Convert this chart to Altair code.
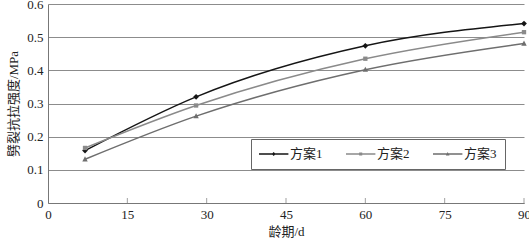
import altair as alt
import pandas as pd

ages = [7, 28, 60, 90]
series_names = ["方案1", "方案2", "方案3"]
plan1 = [0.158, 0.320, 0.474, 0.541]
plan2 = [0.166, 0.294, 0.435, 0.515]
plan3 = [0.132, 0.262, 0.402, 0.481]
x_ticks = [0, 15, 30, 45, 60, 75, 90]
y_ticks = [0, 0.1, 0.2, 0.3, 0.4, 0.5, 0.6]
colors = ["#151515", "#8a8a8a", "#6e6e6e"]
marker_paths = [
    "M0,-0.16L0.16,0L0,0.16L-0.16,0Z",
    "M-0.12,-0.12L0.12,-0.12L0.12,0.12L-0.12,0.12Z",
    "M0,-0.16L0.15,0.12L-0.15,0.12Z",
]
STUB = "M-1,-0.1L3.2,-0.1L3.2,0.1L-1,0.1Z"
legend_paths = [
    STUB + "M1.1,-0.28L1.38,0L1.1,0.28L0.82,0Z",
    STUB + "M0.88,-0.22L1.32,-0.22L1.32,0.22L0.88,0.22Z",
    STUB + "M1.1,-0.3L1.36,0.2L0.84,0.2Z",
]

rows = []
for name, vals in zip(series_names, [plan1, plan2, plan3]):
    for a, v in zip(ages, vals):
        rows.append({"series": name, "age": a, "value": v})
df = pd.DataFrame(rows)
tick_df = pd.DataFrame({"t": x_ticks[1:]})

FONT = "Liberation Serif, Noto Sans CJK SC"
W, H = 476, 199
LX, LY = 203, 135

xs = alt.Scale(domain=[0, 90], nice=False)
ys = alt.Scale(domain=[0, 0.6], nice=False)

x_axis = alt.Axis(values=x_ticks, title="龄期/d", grid=False, ticks=False, tickSize=0,
                  labelPadding=5, titlePadding=4, domainColor="#777", labelFlush=False,
                  labelOverlap=False)
y_axis = alt.Axis(values=y_ticks, title="劈裂抗拉强度/MPa", grid=True, gridColor="#8c8c8c",
                  ticks=False, tickSize=0, labelPadding=5, titlePadding=6, domainColor="#777",
                  labelOverlap=False,
                  labelExpr="datum.value == 0 ? '0' : format(datum.value, '.1f')")

X = alt.X("age:Q", scale=xs, axis=x_axis)
Y = alt.Y("value:Q", scale=ys, axis=y_axis)

layers = []
for name, col in zip(series_names, colors):
    layers.append(
        alt.Chart(df).transform_filter(alt.datum.series == name)
        .mark_line(interpolate="monotone", strokeWidth=1.5, color=col)
        .encode(x=X, y=Y)
    )
for name, col, path in zip(series_names, colors, marker_paths):
    layers.append(
        alt.Chart(df).transform_filter(alt.datum.series == name)
        .mark_point(filled=True, size=1300, opacity=1, shape=path, color=col)
        .encode(x=X, y=Y)
    )

ticks = alt.Chart(tick_df).mark_tick(orient="vertical", size=5, thickness=1, color="#777").encode(
    x=alt.X("t:Q", scale=xs, axis=x_axis),
    y=alt.YDatum(0, scale=ys, axis=y_axis),
    yOffset=alt.value(-2.5),
)
layers.append(ticks)

leg = alt.Legend(
    orient="none", legendX=LX, legendY=LY, direction="horizontal", title=None,
    symbolSize=196, symbolOpacity=1, symbolStrokeWidth=0, labelOffset=17,
    columnPadding=23, padding=8, strokeColor="#666", fillColor="white",
    labelFont=FONT, labelFontSize=13, labelColor="#222",
)
legend_layer = alt.Chart(df).mark_point(filled=True, opacity=0).encode(
    x=X, y=Y,
    color=alt.Color("series:N", scale=alt.Scale(domain=series_names, range=colors), legend=leg),
    shape=alt.Shape("series:N", scale=alt.Scale(domain=series_names, range=legend_paths), legend=leg),
)
layers.append(legend_layer)

chart = alt.layer(*layers).properties(
    width=W, height=H,
    autosize=alt.AutoSizeParams(type="none"),
    padding={"left": 48, "top": 4, "right": 5, "bottom": 39},
).configure(background="white").configure_view(stroke=None).configure_axis(
    labelFont=FONT, labelFontSize=13, labelColor="#222",
    titleFont=FONT, titleFontSize=13, titleColor="#222", titleFontWeight="normal",
)

chart.save("out.html", embed_options={"renderer": "svg", "actions": False})
